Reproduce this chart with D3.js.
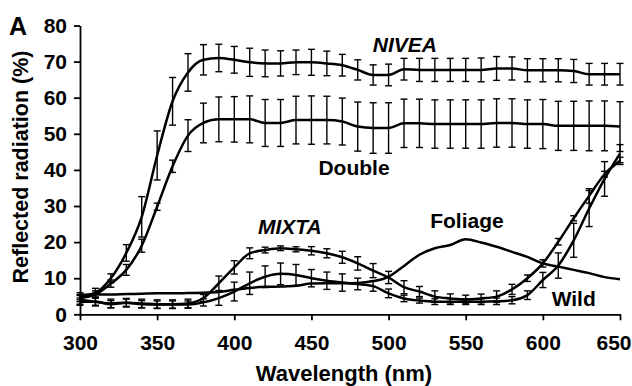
<!DOCTYPE html>
<html><head><meta charset="utf-8">
<script src="https://cdn.jsdelivr.net/npm/d3@7"></script>
<style>
body{margin:0;background:#fff;}
text{font-family:"Liberation Sans",Arial,sans-serif;font-weight:bold;fill:#000;}
</style></head>
<body><svg id="c" width="632" height="386"></svg>
<script>
const wavelengths = d3.range(300, 651, 10);
const xTicks = [300,350,400,450,500,550,600,650];
const yTicks = [0,10,20,30,40,50,60,70,80];

const nivea = [5,6,10,17,27,44,59,67,70.5,71,70.5,69.8,69.5,69.5,69.8,69.8,69.5,69,67.7,66.3,66.3,67.9,67.7,67.7,67.7,67.7,67.7,68.1,68.1,67.6,67.6,67.6,67.4,66.5,66.5,66.5];
const niveaErr = [1,1.2,1.2,2.3,5.6,6.8,6.6,5.2,4.2,3.8,3.7,3.9,3.7,3.5,3.4,3.6,3.4,3.0,2.8,2.8,3.0,3.0,3.2,3.2,3.2,3.2,3.3,3.3,3.2,3.2,3.2,3.2,3.2,3.0,3.0,3.0];
const double_ = [4.5,5.5,8.5,12.3,19,29.8,41,49.5,53,54,54,54,53,53,53.8,53.8,53.8,53.4,52,51.6,51.6,52.9,52.9,52.7,52.7,52.7,52.7,53,53,52.7,52.7,52.2,52.2,52.2,52.2,52];
const doubleErr = [1,1,1,1.5,1.8,1,1.7,4.4,5.5,6.2,6.3,6.5,6.5,6.5,6.6,6.7,6.6,6.5,6.8,7,7,6.7,6.7,6.7,6.7,6.7,6.7,6.7,6.7,6.7,6.8,6.8,6.8,6.9,6.9,6.9];
const mixta = [4,3.5,3,3.2,3,2.8,2.8,3,4.5,8.6,13,16.9,17.8,18.3,18,17.6,16.9,15.8,14.1,12.1,10.2,7.5,6.3,4.9,4.4,4.1,4.4,4.9,6.9,10,14.1,20.1,26.6,32.8,38.8,42.5];
const mixtaErr = [1.2,1.2,1.2,1.2,1.2,1.2,1.2,1.2,1,2,1.85,1.5,0.8,0.65,0.7,1.15,1.25,1.66,1.85,1.95,1.7,1.8,1.4,1.6,1.25,1.2,1.2,1.6,1.4,0.9,1,0.9,0.7,2,0.8,1];
const wild = [3.5,3.5,2.8,3.2,2.8,2.7,2.7,2.7,3.3,4.5,6.3,8.6,10.4,11.2,10.9,10,9.3,8.8,8.4,7.8,5.8,4.4,3.8,3.5,3.5,3.5,3.5,3.6,3.9,5.3,9.5,13.5,20.5,29.3,37.5,44.5];
const wildErr = [1,1,1,1,1,1,1,1,1,2,2.6,3.1,3,3,2.9,2.4,2.4,2.4,1.6,1.4,1.2,0.9,0.7,0.8,0.8,0.8,0.8,0.9,1,1.2,2.1,3.5,4.7,5,4.8,2.5];
const foliage = [5.4,5.5,5.5,5.6,5.7,5.8,5.8,5.9,6.0,6.2,6.8,7.3,7.6,7.7,7.9,8.5,8.6,8.6,8.7,9.2,10.4,13.4,16.5,18.3,19.2,20.8,19.9,18.7,17.3,15.9,14.1,13.2,12.3,11.4,10.3,9.7];

const labelNames = ["NIVEA","Double","MIXTA","Foliage","Wild"];
const labelX = [510.6,477.6,436,550.8,620];
const labelY = [72.7,38.6,22.2,23.9,2.3];
const labelItalic = [true,false,true,false,false];

const svg = d3.select("#c");
const x = d3.scaleLinear().domain([300,650]).range([80,620]);
const y = d3.scaleLinear().domain([0,80]).range([314.3,25.5]);

const gx = svg.append("g").attr("transform","translate(0,314.3)")
  .call(d3.axisBottom(x).tickValues(xTicks).tickSize(6).tickPadding(15).tickSizeOuter(0));
const gy = svg.append("g").attr("transform","translate(80,0)")
  .call(d3.axisLeft(y).tickValues(yTicks).tickSize(6).tickPadding(7).tickSizeOuter(0));
[gx,gy].forEach(g=>{
  g.select(".domain").attr("stroke","#000").attr("stroke-width",1.8);
  g.selectAll(".tick line").attr("stroke","#000").attr("stroke-width",1.8);
  g.selectAll(".tick text").style("font-size","21px").style("font-family","'Liberation Sans',Arial,sans-serif").style("font-weight","bold").attr("fill","#000");
});
gx.selectAll(".tick text").filter(d=>d===650).attr("text-anchor","end").attr("x",632-x(650)-1);

const line = d3.line().x((d,i)=>x(wavelengths[i])).y(d=>y(d)).curve(d3.curveMonotoneX);

const series = [
  {v:nivea,e:niveaErr},
  {v:double_,e:doubleErr},
  {v:mixta,e:mixtaErr},
  {v:wild,e:wildErr},
  {v:foliage,e:null}
];
series.forEach(s=>{
  if(s.e){
    const g = svg.append("g").attr("stroke","#000").attr("stroke-width",1.4);
    s.v.forEach((v,i)=>{
      const cx = x(wavelengths[i]), y1 = y(v + s.e[i]), y2 = y(Math.max(0,v - s.e[i]));
      g.append("line").attr("x1",cx).attr("x2",cx).attr("y1",y1).attr("y2",y2);
      g.append("line").attr("x1",cx-3.5).attr("x2",cx+3.5).attr("y1",y1).attr("y2",y1);
      g.append("line").attr("x1",cx-3.5).attr("x2",cx+3.5).attr("y1",y2).attr("y2",y2);
    });
  }
  svg.append("path").datum(s.v).attr("d",line).attr("fill","none").attr("stroke","#000").attr("stroke-width",2.5);
});

labelNames.forEach((t,i)=>{
  svg.append("text").attr("x",x(labelX[i])).attr("y",y(labelY[i]))
    .attr("text-anchor","middle").style("font-size","21px")
    .style("font-style",labelItalic[i]?"italic":"normal").text(t);
});

svg.append("text").attr("x",344).attr("y",381).attr("text-anchor","middle").style("font-size","22px").text("Wavelength (nm)");
svg.append("text").attr("transform","translate(28,167) rotate(-90)").attr("text-anchor","middle").style("font-size","21.5px").text("Reflected radiation (%)");
svg.append("text").attr("x",9).attr("y",35).style("font-size","25px").text("A");
</script></body></html>
